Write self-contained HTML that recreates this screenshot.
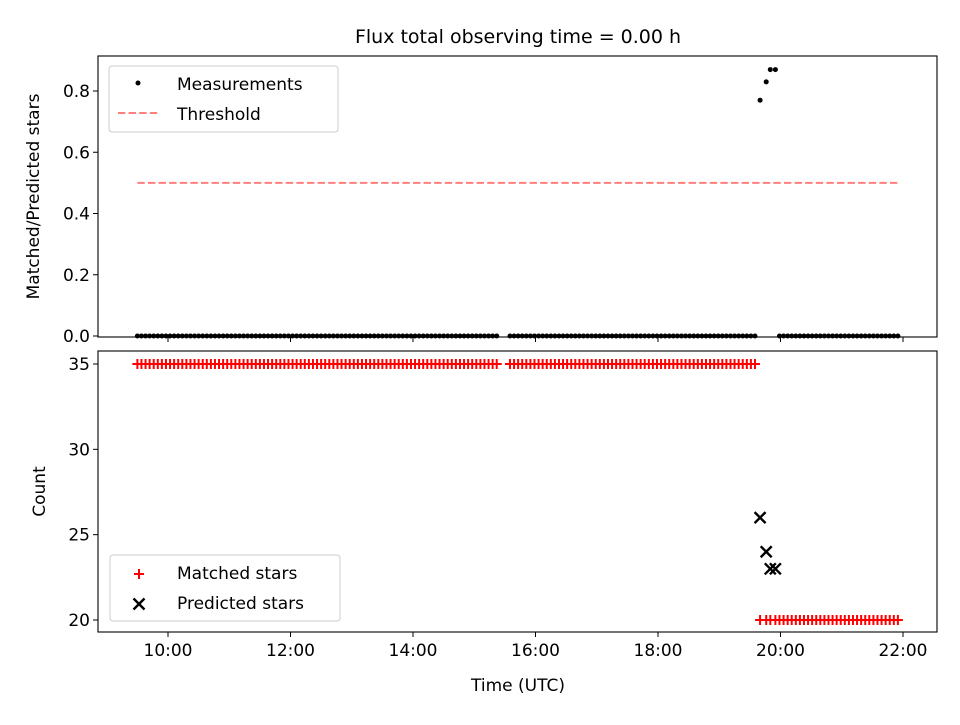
<!DOCTYPE html>
<html><head><meta charset="utf-8"><style>
body{margin:0;background:#fff}
svg{font-family:"DejaVu Sans","Liberation Sans",sans-serif}
</style></head><body>
<svg id="c" width="960" height="720" viewBox="0 0 960 720">
<rect width="960" height="720" fill="#fff"/>
<text x="518" y="43" font-size="19" text-anchor="middle">Flux total observing time = 0.00 h</text>
<g id="topP"></g>
<g id="botP"></g>
</svg>
<script>
// times in minutes since midnight (UTC)
const timesA=[570,574,578,582,586,590,594,598,602,606,610,614,618,622,626,630,634,638,642,646,650,654,658,662,666,670,674,678,682,686,690,694,698,702,706,710,714,718,722,726,730,734,738,742,746,750,754,758,762,766,770,774,778,782,786,790,794,798,802,806,810,814,818,822,826,830,834,838,842,846,850,854,858,862,866,870,874,878,882,886,890,894,898,902,906,910,914,918,922];
const timesB=[935,939,943,947,951,955,959,963,967,971,975,979,983,987,991,995,999,1003,1007,1011,1015,1019,1023,1027,1031,1035,1039,1043,1047,1051,1055,1059,1063,1067,1071,1075,1079,1083,1087,1091,1095,1099,1103,1107,1111,1115,1119,1123,1127,1131,1135,1139,1143,1147,1151,1155,1159,1163,1167,1171,1175];
const timesC=[1199,1203,1207,1211,1215,1219,1223,1227,1231,1235,1239,1243,1247,1251,1255,1259,1263,1267,1271,1275,1279,1283,1287,1291,1295,1299,1303,1307,1311,1315];
const timesD=[1180,1186,1190,1195];
const ratioD=[0.77,0.83,0.87,0.87];
const predictedD=[26,24,23,23];
const matchedD=[20,20,20,20];
const matchedHigh=35, matchedLow=20, ratioZero=0;
const threshold=0.5, thresholdStart=570, thresholdEnd=1315;
const xTicks=[600,720,840,960,1080,1200,1320];
const xTickLabels=["10:00","12:00","14:00","16:00","18:00","20:00","22:00"];
const topTicks=[0,0.2,0.4,0.6,0.8];
const topTickLabels=["0.0","0.2","0.4","0.6","0.8"];
const botTicks=[20,25,30,35];
const botTickLabels=["20","25","30","35"];

const NS="http://www.w3.org/2000/svg";
function mk(p,t,a){const el=document.createElementNS(NS,t);for(const k in a)el.setAttribute(k,a[k]);p.appendChild(el);return el;}
const L=98,R=937;
const X=m=>168+(m-600)*61.25/60;
const TT=56,TB=337,BT=351,BB=632;
const Yt=v=>336-v*306.25;
const Yb=v=>620-(v-20)*256/15;
const topG=document.getElementById('topP'),botG=document.getElementById('botP');

let e;
e=mk(topG,'line',{x1:X(thresholdStart),x2:X(thresholdEnd),y1:Yt(threshold),y2:Yt(threshold),stroke:'#ff7f7f','stroke-width':2,'stroke-dasharray':'7.4,3.2'});


const g1=mk(topG,'g',{});


[timesA,timesB,timesC].forEach(arr=>arr.forEach(t=>{
  e=mk(g1,'circle',{cx:X(t),cy:Yt(ratioZero),r:2.5,fill:'#000'});
  
  
}));
timesD.forEach((t,i)=>{
  e=mk(g1,'circle',{cx:X(t),cy:Yt(ratioD[i]),r:2.5,fill:'#000'});
  
  
});
mk(topG,'rect',{x:L,y:TT,width:R-L,height:TB-TT,fill:'none',stroke:'#000','stroke-width':1.1});
topTicks.forEach((v,i)=>{
  mk(topG,'line',{x1:L-5,x2:L,y1:Yt(v),y2:Yt(v),stroke:'#000'});
  e=mk(topG,'text',{x:L-8,y:Yt(v)+6,'font-size':17,'text-anchor':'end'});e.textContent=topTickLabels[i];
  
  
});
xTicks.forEach(v=>mk(topG,'line',{x1:X(v),x2:X(v),y1:TB,y2:TB+5,stroke:'#000'}));
e=mk(topG,'text',{x:0,y:0,'font-size':17,'text-anchor':'middle',transform:`translate(39,${(TT+TB)/2}) rotate(-90)`});e.textContent='Matched/Predicted stars';


const lg=mk(topG,'g',{});


mk(lg,'rect',{x:109,y:66,width:229,height:66,rx:3,fill:'#fff',stroke:'#ccc'});
mk(lg,'circle',{cx:138,cy:83,r:2.5,fill:'#000'});
e=mk(lg,'text',{x:177,y:90,'font-size':17});e.textContent='Measurements';
mk(lg,'line',{x1:118,x2:158,y1:113,y2:113,stroke:'#ff7f7f','stroke-width':2,'stroke-dasharray':'7.4,3.2'});
e=mk(lg,'text',{x:177,y:120,'font-size':17});e.textContent='Threshold';

function plus(g,x,y){const s=5;mk(g,'path',{d:`M${x-s},${y}H${x+s}M${x},${y-s}V${y+s}`,stroke:'#f00','stroke-width':2,fill:'none'});}
function cross(g,x,y){const s=5.5;mk(g,'path',{d:`M${x-s},${y-s}L${x+s},${y+s}M${x-s},${y+s}L${x+s},${y-s}`,stroke:'#000','stroke-width':2.4,fill:'none'});}
const g2=mk(botG,'g',{});


[timesA,timesB].forEach(arr=>arr.forEach(t=>plus(g2,X(t),Yb(matchedHigh))));
timesC.forEach(t=>plus(g2,X(t),Yb(matchedLow)));
timesD.forEach((t,i)=>plus(g2,X(t),Yb(matchedD[i])));
const g3=mk(botG,'g',{});


timesD.forEach((t,i)=>cross(g3,X(t),Yb(predictedD[i])));
mk(botG,'rect',{x:L,y:BT,width:R-L,height:BB-BT,fill:'none',stroke:'#000','stroke-width':1.1});
botTicks.forEach((v,i)=>{
  mk(botG,'line',{x1:L-5,x2:L,y1:Yb(v),y2:Yb(v),stroke:'#000'});
  e=mk(botG,'text',{x:L-8,y:Yb(v)+6,'font-size':17,'text-anchor':'end'});e.textContent=botTickLabels[i];
  
  
});
xTicks.forEach((v,i)=>{
  mk(botG,'line',{x1:X(v),x2:X(v),y1:BB,y2:BB+5,stroke:'#000'});
  e=mk(botG,'text',{x:X(v),y:BB+24,'font-size':17,'text-anchor':'middle'});e.textContent=xTickLabels[i];
  
  
});
e=mk(botG,'text',{x:518,y:691,'font-size':17,'text-anchor':'middle'});e.textContent='Time (UTC)';


e=mk(botG,'text',{x:0,y:0,'font-size':17,'text-anchor':'middle',transform:`translate(45,${(BT+BB)/2}) rotate(-90)`});e.textContent='Count';


const lg2=mk(botG,'g',{});


mk(lg2,'rect',{x:110,y:555,width:230,height:66,rx:3,fill:'#fff',stroke:'#ccc'});
plus(lg2,139,574);
e=mk(lg2,'text',{x:177,y:579,'font-size':17});e.textContent='Matched stars';
cross(lg2,139,604);
e=mk(lg2,'text',{x:177,y:609,'font-size':17});e.textContent='Predicted stars';
</script>
</body></html>
